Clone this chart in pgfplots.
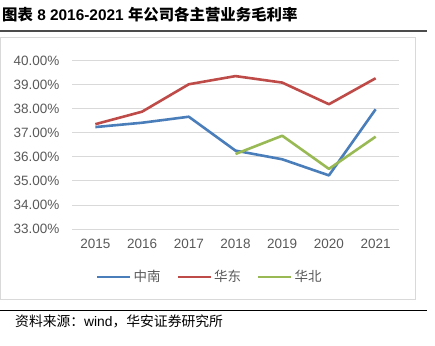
\documentclass[border=0pt]{standalone}
\usepackage{fontspec}
\setmainfont{Liberation Sans}
\newfontfamily\cjk{Noto Sans CJK SC}
\usepackage{pgfplots}
\pgfplotsset{compat=1.18}
\definecolor{cblue}{HTML}{4A7EBB}
\definecolor{cred}{HTML}{BE4B48}
\definecolor{cgreen}{HTML}{98B954}
\definecolor{tgray}{HTML}{595959}
\definecolor{gridc}{HTML}{D9D9D9}
\begin{document}
\begin{tikzpicture}[x=1pt,y=1pt]
\path[use as bounding box] (0,0) rectangle (435,-345);
\node[anchor=west,inner sep=0] at (2,-15) {\fontsize{15.4}{18}\selectfont\bfseries{\cjk 图表} 8 2016-2021 {\cjk 年公司各主营业务毛利率}};
\draw[line width=1.2pt, black!70] (0,-31) -- (427,-31);
\draw[gridc, line width=1pt] (0.5,-38) rectangle (415,-299);
\draw[line width=0.8pt] (0,-310) -- (427,-310);
\node[anchor=west,inner sep=0] at (15,-321) {\fontsize{13.8}{16}\selectfont{\cjk 资料来源：}wind{\cjk ，华安证券研究所}};
\begin{axis}[
  at={(72pt,-229pt)}, anchor=south west,
  scale only axis, width=327pt, height=168.3pt,
  xmin=-0.5, xmax=6.5, ymin=33, ymax=40,
  ytick={33,34,...,40}, xtick={0,...,6},
  xticklabels={2015,2016,2017,2018,2019,2020,2021},
  axis line style={draw=none},
  ymajorgrids, grid style={gridc, line width=0.9pt},
  major tick length=0pt,
  tick label style={font=\fontsize{13.5}{15}\selectfont, text=tgray},
  /pgf/number format/assume math mode=true,
  yticklabel={\pgfmathprintnumber[fixed,fixed zerofill,precision=2]{\tick}\%},
  yticklabel style={xshift=-9pt},
  xticklabel style={yshift=-7pt},
  clip=false,
  legend style={at={(axis description cs:0.422,-0.285)}, anchor=center, draw=none, fill=none,
    legend columns=3, font=\cjk\fontsize{13.5}{15}\selectfont, text=tgray,
    /tikz/every even column/.append style={column sep=14pt}},
  legend image code/.code={\draw[#1, line width=2.5pt] (0pt,0pt) -- (33pt,0pt);},
  every axis plot/.append style={line width=2.6pt, line join=round, mark=none},
]
\addplot[cblue] coordinates {(0,37.24) (1,37.42) (2,37.67) (3,36.26) (4,35.90) (5,35.23) (6,37.98)};
\addlegendentry{中南}
\addplot[cred] coordinates {(0,37.36) (1,37.88) (2,39.02) (3,39.36) (4,39.09) (5,38.19) (6,39.27)};
\addlegendentry{华东}
\addplot[cgreen] coordinates {(3,36.12) (4,36.88) (5,35.50) (6,36.84)};
\addlegendentry{华北}
\end{axis}
\end{tikzpicture}
\end{document}
